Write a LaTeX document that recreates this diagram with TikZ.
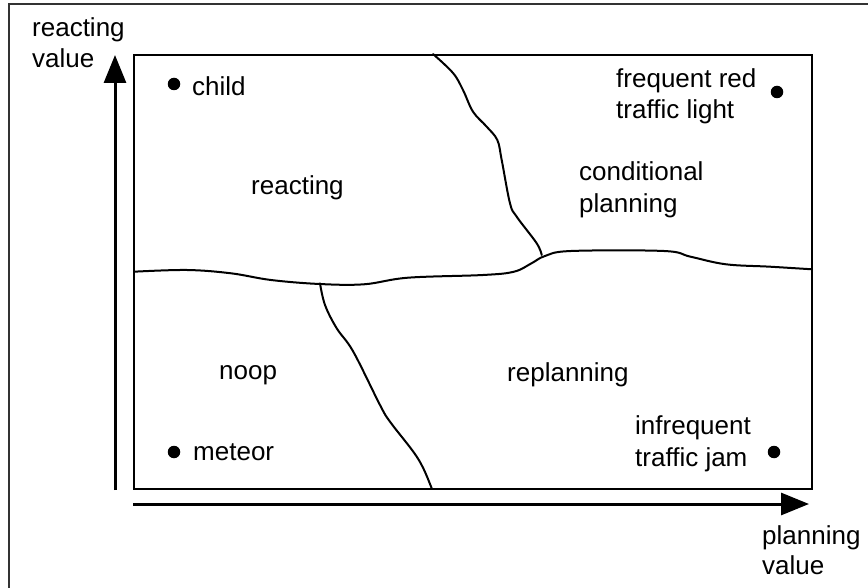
\documentclass[tikz,border=0pt]{standalone}
\usepackage{fontspec}
\setmainfont{Liberation Sans}
\usetikzlibrary{arrows.meta}
\begin{document}
\begin{tikzpicture}[x=1pt,y=-1pt,
  lbl/.style={anchor=base west, inner sep=0pt, font=\fontsize{26}{31}\selectfont},
  region/.style={line width=2pt, line join=round, line cap=round},
  axis/.style={line width=3pt, -{Triangle[length=28pt,width=22pt]}},
  dot/.style={circle, fill=black, inner sep=0pt, minimum size=12.5pt}]
\useasboundingbox (0,0) rectangle (868,588);
% outer frame (left and top only)
\draw[line width=2pt, black!80] (9,588) -- (9,4) -- (868,4);
% inner box
\draw[line width=2.5pt] (134,55) rectangle (812,489);
% region boundaries
\draw[region] plot[smooth, tension=0.6] coordinates {(134,271.7) (187,270) (231,273.3) (271,280) (319.5,284) (364,284.3) (408,277.7) (483,275) (514,271.7) (531.5,263.3) (545,256) (571,251) (664,251) (690.5,256.7) (726,264.3) (770,266.7) (812,269.3)};
\draw[region] plot[smooth, tension=0.6] coordinates {(433,54) (453,73) (463,90) (473,111.7) (486.7,126.7) (497.3,140) (501.7,160) (510,203.3) (516.7,216.7) (536.7,243.3) (541.7,255)};
\draw[region] plot[smooth, tension=0.6] coordinates {(320,283.3) (325,305) (336.7,328.3) (353.3,351.7) (380,405) (390,421.7) (413.3,451.7) (423.3,468.3) (431.7,488.3)};
% axes
\coordinate (ystart) at (115,490);
\coordinate (yend) at (115,55);
\coordinate (xstart) at (133,504);
\coordinate (xend) at (809,504);
\draw[axis] (ystart) -- (yend);
\draw[axis] (xstart) -- (xend);
% axis labels
\node[lbl] (ylab1) at (32,36.7) {reacting};
\node[lbl] (ylab2) at (32,67.5) {value};
\node[lbl] (xlab1) at (762,544) {planning};
\node[lbl] (xlab2) at (762,574) {value};
% region labels
\node[lbl] (reacting) at (251,195) {reacting};
\node[lbl] (cond1) at (579,181) {conditional};
\node[lbl] (cond2) at (579,213) {planning};
\node[lbl] (noop) at (219,379) {noop};
\node[lbl] (replanning) at (507,381) {replanning};
% example points
\node[dot] (childdot) at (174,84) {};
\node[lbl] (child) at (192,96) {child};
\node[dot] (freqdot) at (777,92) {};
\node[lbl] (freq1) at (616,88) {frequent red};
\node[lbl] (freq2) at (616,119) {traffic light};
\node[dot] (meteordot) at (174,452) {};
\node[lbl] (meteor) at (193,460) {meteor};
\node[dot] (jamdot) at (774,452) {};
\node[lbl] (jam1) at (635,434) {infrequent};
\node[lbl] (jam2) at (635,466) {traffic jam};
\end{tikzpicture}
\end{document}
